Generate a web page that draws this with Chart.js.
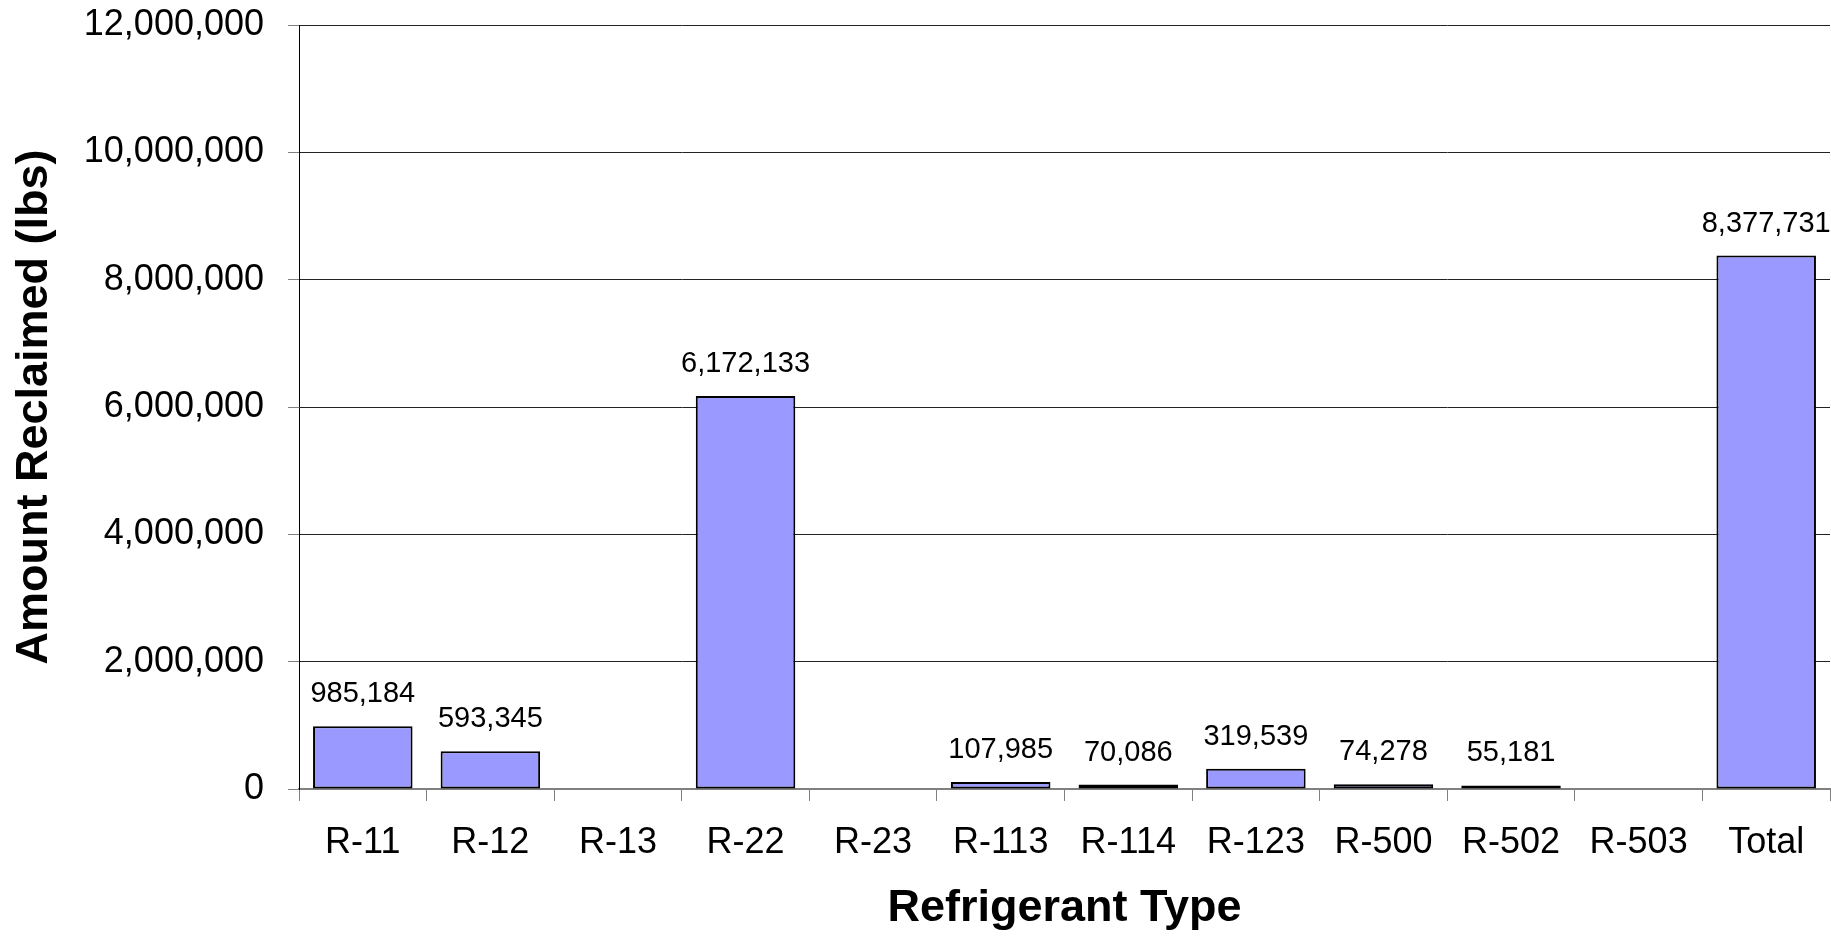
<!DOCTYPE html>
<html>
<head>
<meta charset="utf-8">
<title>Amount Reclaimed by Refrigerant Type</title>
<script src="https://cdn.jsdelivr.net/npm/chart.js@4.4.1/dist/chart.umd.min.js"></script>
<style>
  html, body { margin: 0; padding: 0; background: #fff; }
  #wrap { position: relative; width: 1831px; height: 936px; }
</style>
</head>
<body>
<div id="wrap"><canvas id="chart"></canvas></div>
<script>
const refrigerants = ["R-11", "R-12", "R-13", "R-22", "R-23", "R-113", "R-114", "R-123", "R-500", "R-502", "R-503", "Total"];
const amountReclaimed = [985184, 593345, null, 6172133, null, 107985, 70086, 319539, 74278, 55181, null, 8377731];
const yTicks = [0, 2000000, 4000000, 6000000, 8000000, 10000000, 12000000];

const FONT = "'Liberation Sans', Arial, Helvetica, sans-serif";
const fmt = v => v.toLocaleString("en-US");

// value labels above each bar
const barLabels = {
  id: "barLabels",
  afterDatasetsDraw(chart) {
    const ctx = chart.ctx;
    const meta = chart.getDatasetMeta(0);
    ctx.save();
    ctx.font = "29px " + FONT;
    ctx.fillStyle = "#000";
    ctx.textAlign = "center";
    ctx.textBaseline = "alphabetic";
    meta.data.forEach((bar, i) => {
      const v = amountReclaimed[i];
      if (v == null) return;
      ctx.fillText(fmt(v), bar.x, bar.y - 24);
    });
    ctx.restore();
  }
};

new Chart(document.getElementById("chart"), {
  type: "bar",
  data: {
    labels: refrigerants,
    datasets: [{
      data: amountReclaimed,
      backgroundColor: "#9999FF",
      borderColor: "#000",
      borderWidth: 2,
      borderSkipped: false,
      barPercentage: 0.78,
      categoryPercentage: 1
    }]
  },
  options: {
    responsive: true,
    maintainAspectRatio: false,
    animation: false,
    layout: { padding: { top: 25, right: 1, left: 0, bottom: 0 } },
    plugins: {
      legend: { display: false },
      tooltip: { enabled: false },
      title: { display: false }
    },
    scales: {
      x: {
        offset: true,
        grid: {
          offset: true,
          drawOnChartArea: false,
          drawTicks: true,
          tickLength: 12,
          color: "#808080",
          lineWidth: 1
        },
        border: { display: true, color: "#808080", width: 2 },
        ticks: {
          color: "#000",
          padding: 20,
          maxRotation: 0,
          autoSkip: false,
          font: { family: FONT, size: 36 }
        },
        title: {
          display: true,
          text: "Refrigerant Type",
          color: "#000",
          padding: { top: 0, bottom: 0 },
          font: { family: FONT, size: 45, weight: "bold" }
        },
        afterFit(scale) {
          scale.height = 147;
          scale.paddingLeft = 0;
          scale.paddingRight = 0;
        }
      },
      y: {
        min: 0,
        max: 12000000,
        afterBuildTicks(scale) { scale.ticks = yTicks.map(v => ({ value: v })); },
        grid: {
          color: "#222",
          lineWidth: 1,
          drawTicks: true,
          tickLength: 11,
          tickColor: "#808080"
        },
        border: { display: true, color: "#000", width: 1 },
        ticks: {
          color: "#000",
          padding: 24,
          font: { family: FONT, size: 36 },
          callback: v => fmt(v)
        },
        title: {
          display: true,
          text: "Amount Reclaimed (lbs)",
          color: "#000",
          padding: { top: 8, bottom: 0 },
          font: { family: FONT, size: 45, weight: "bold" }
        },
        afterFit(scale) {
          scale.width = 299;
          scale.paddingTop = 0;
          scale.paddingBottom = 0;
        }
      }
    }
  },
  plugins: [barLabels]
});
</script>
</body>
</html>
